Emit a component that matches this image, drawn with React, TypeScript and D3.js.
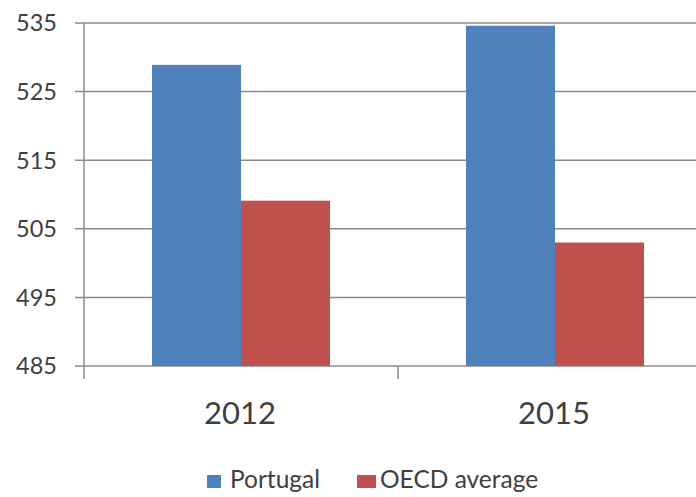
import { useEffect, useRef } from 'react'
import * as d3 from 'd3'

const W = 696, H = 497
const M = { top: 23, left: 84, bottom: 131 }
const PLOT_RIGHT = 712

const years = ['2012', '2015']
const seriesNames = ['Portugal', 'OECD average']
const portugal = [528.9, 534.6]
const oecd = [509.1, 503.0]
const yTicks = [485, 495, 505, 515, 525, 535]
const colors = ['#4F81BD', '#C0504D']

const FONT = 'Lato, "Open Sans", sans-serif'
const TEXT = '#404040'
const GRID = '#8c8c8c'

export default function App() {
  const svgRef = useRef<SVGSVGElement>(null)

  useEffect(() => {
    const svg = d3.select(svgRef.current!)
    svg.selectAll('*').remove()

    const y = d3.scaleLinear().domain([485, 535]).range([H - M.bottom, M.top])
    const x0 = d3.scaleBand<string>().domain(years).range([M.left, PLOT_RIGHT]).padding(0)
    const x1 = d3.scaleBand<string>().domain(seriesNames).range([0, x0.bandwidth()])
      .paddingInner(0).paddingOuter(0.764)

    // Grid
    svg.append('g').selectAll('line').data(yTicks).join('line')
      .attr('x1', M.left - 9).attr('x2', W)
      .attr('y1', d => y(d)).attr('y2', d => y(d))
      .attr('stroke', GRID).attr('stroke-width', 1.5)

    // Y axis line
    svg.append('line')
      .attr('x1', M.left).attr('x2', M.left)
      .attr('y1', y(535)).attr('y2', y(485) + 13)
      .attr('stroke', GRID).attr('stroke-width', 1.5)

    // Category separators
    svg.append('g').selectAll('line').data(years).join('line')
      .attr('x1', d => x0(d)! + x0.bandwidth()).attr('x2', d => x0(d)! + x0.bandwidth())
      .attr('y1', y(485)).attr('y2', y(485) + 13)
      .attr('stroke', GRID).attr('stroke-width', 1.5)

    // Y labels
    svg.append('g').selectAll('text').data(yTicks).join('text')
      .attr('x', 57).attr('y', d => y(d)).attr('dy', '0.36em')
      .attr('text-anchor', 'end')
      .attr('font-family', FONT).attr('font-size', 23.5).attr('fill', TEXT)
      .text(d => d)

    // Bars
    const rows = years.map((yr, i) => ({ yr, vals: [portugal[i], oecd[i]] }))
    const grp = svg.append('g').selectAll('g').data(rows).join('g')
      .attr('transform', d => `translate(${x0(d.yr)},0)`)
    grp.selectAll('rect').data(d => d.vals.map((v, j) => ({ v, s: seriesNames[j], c: colors[j] })))
      .join('rect')
      .attr('x', d => x1(d.s)!).attr('width', x1.bandwidth())
      .attr('y', d => y(d.v)).attr('height', d => y(485) - y(d.v))
      .attr('fill', d => d.c)

    // X labels
    svg.append('g').selectAll('text').data(years).join('text')
      .attr('x', d => x0(d)! + x0.bandwidth() / 2 - 1).attr('y', 424)
      .attr('text-anchor', 'middle')
      .attr('font-family', FONT).attr('font-size', 31).attr('fill', TEXT)
      .text(d => d)

    // Legend
    const legend = [
      { label: seriesNames[0], color: colors[0], sx: 207, sw: 14, tx: 230 },
      { label: seriesNames[1], color: colors[1], sx: 357, sw: 19, tx: 380 },
    ]
    legend.forEach(({ label, color, sx, sw, tx }) => {
      svg.append('rect').attr('x', sx).attr('y', 475).attr('width', sw).attr('height', 13)
        .attr('fill', color)
      svg.append('text').attr('x', tx).attr('y', 488)
        .attr('font-family', FONT).attr('font-size', 24.5).attr('fill', TEXT)
        .text(label)
    })
  }, [])

  return (
    <svg ref={svgRef} width={W} height={H}
      style={{ position: 'absolute', left: 0, top: 0, background: '#fff' }} />
  )
}
